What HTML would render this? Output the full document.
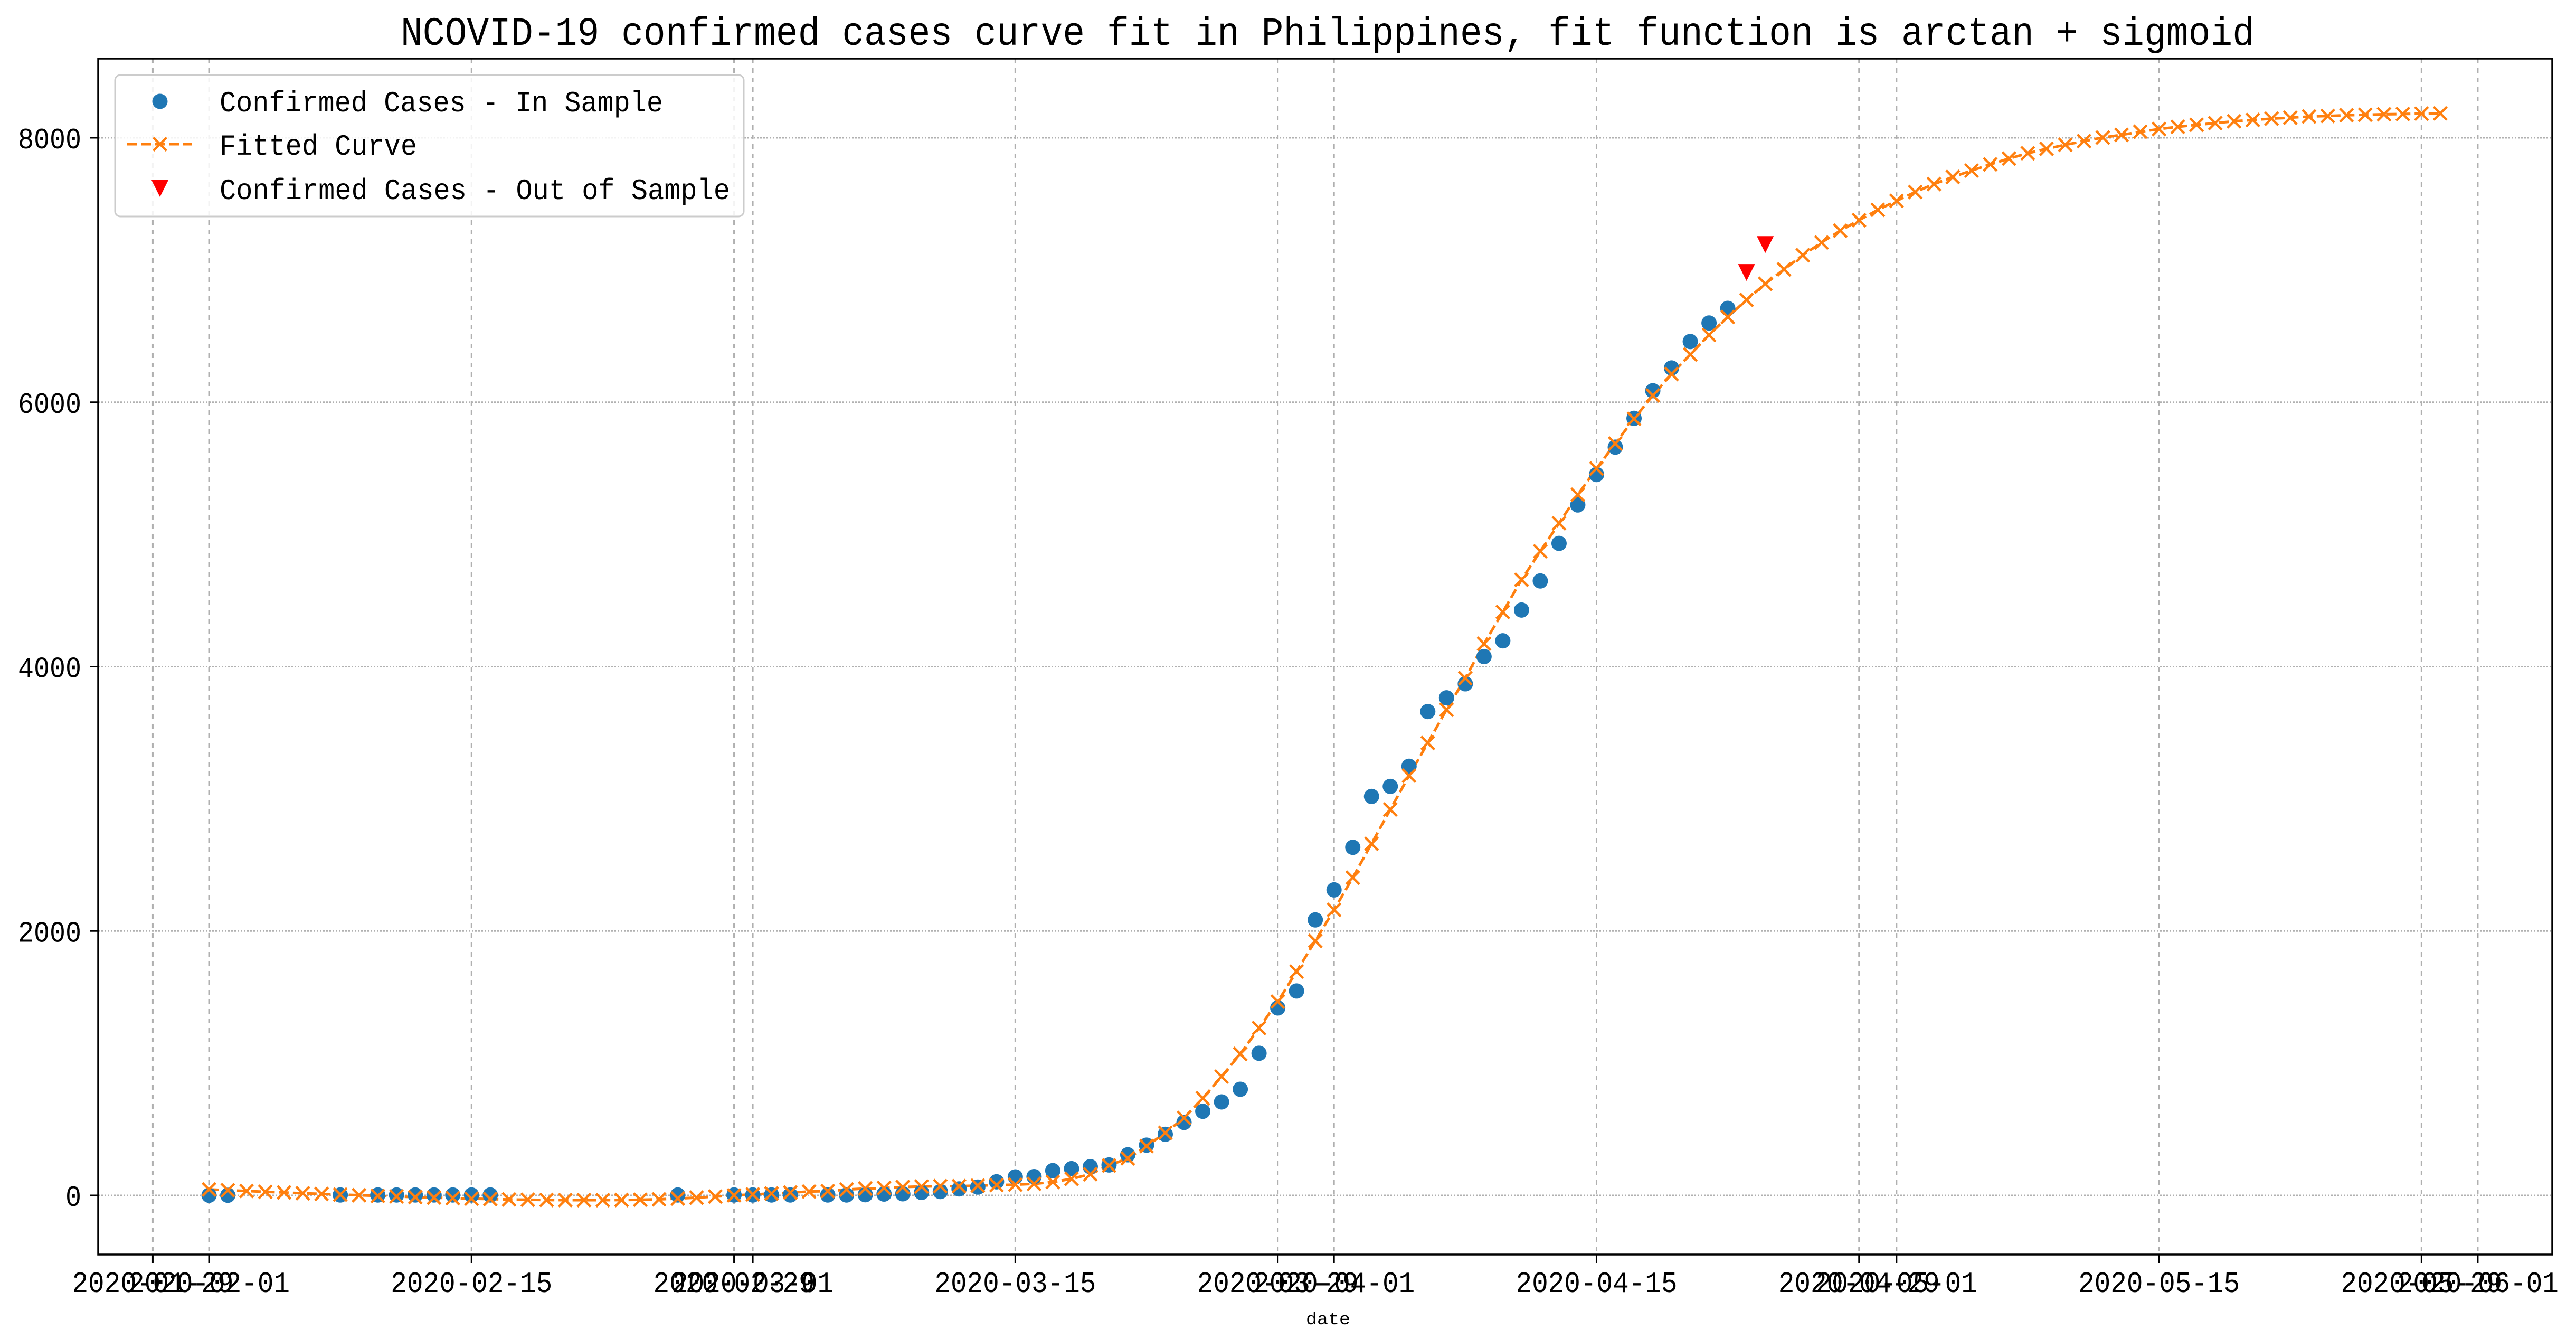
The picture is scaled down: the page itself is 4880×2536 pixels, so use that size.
<!DOCTYPE html>
<html><head><meta charset="utf-8">
<style>
html,body{margin:0;padding:0;background:#fff;}
svg{display:block;}
text{font-family:"Liberation Mono","Noto Sans CJK SC",monospace;fill:#000;}
</style></head>
<body>
<svg id="chart" xmlns="http://www.w3.org/2000/svg" width="4880" height="2536" viewBox="0 0 4880 2536">
<rect x="0" y="0" width="4880" height="2536" fill="#fff"/>
<text x="2515" y="85" text-anchor="middle" font-size="76" textLength="3512" lengthAdjust="spacingAndGlyphs">NCOVID-19 confirmed cases curve fit in Philippines, fit function is arctan + sigmoid</text>
<g id="grid"></g>
<g id="axes"></g>
<g id="series"></g>
<text x="2516" y="2508" text-anchor="middle" font-size="32" textLength="84" lengthAdjust="spacingAndGlyphs">date</text>
<g id="legend">
  <rect x="218" y="142" width="1191" height="268" rx="10" fill="#fff" fill-opacity="0.85" stroke="#cccccc" stroke-width="3"/>
  <g>
    <circle cx="303" cy="192" r="14.5" fill="#1f77b4"/>
    <text x="416" y="211" font-size="56" textLength="840" lengthAdjust="spacingAndGlyphs">Confirmed Cases - In Sample</text>
  </g>
  <g>
    <line x1="241" y1="273" x2="364" y2="273" stroke="#ff7f0e" stroke-width="5" stroke-dasharray="18.5 8"/>
    <path d="M290.5,260.5 L315.5,285.5 M290.5,285.5 L315.5,260.5" stroke="#ff7f0e" stroke-width="4.5"/>
    <text x="416" y="293" font-size="56" textLength="374" lengthAdjust="spacingAndGlyphs">Fitted Curve</text>
  </g>
  <g>
    <path d="M287,341 L319,341 L303,373 Z" fill="#ff0000"/>
    <text x="416" y="377" font-size="56" textLength="967" lengthAdjust="spacingAndGlyphs">Confirmed Cases - Out of Sample</text>
  </g>
</g>
</svg>
<script>
// ---- data ----
var fitStartDate = "2020-02-01";
var fittedValues = [45,39,33,27,22,16,11,6,1,-4,-8,-13,-17,-21,-25,-28,-31,-33,-35,-36,-36,-36,-35,-33,-30,-24,-17,-9,0,7,14,21,29,32,
44,52,56,63,67,70,70,74,78,81,87,101,125,160,226,280,373,473,586,735,
899,1070,1266,1466,1693,1925,2160,2404,2660,2919,3175,3422,3674,3913,4173,4413,4657,
4872,5084,5300,5499,5687,5875,6051,6213,6361,6509,6645,6774,6896,7005,
7112,7208,7297,7377,7455,7523,7590,7650,7704,7752,7799,7843,7883,7917,7947,7975,8002,8022,8046,8066,8083,8098,8111,8125,8135,8145,8152,8161,8165,8171,8174,8178,8180,8183,8185];
var inSampleDates = ["2020-02-01","2020-02-02","2020-02-08","2020-02-10","2020-02-11","2020-02-12","2020-02-13","2020-02-14","2020-02-15","2020-02-16","2020-02-26","2020-02-29","2020-03-01","2020-03-02","2020-03-03","2020-03-05","2020-03-06","2020-03-07","2020-03-08","2020-03-09","2020-03-10","2020-03-11","2020-03-12","2020-03-13","2020-03-14","2020-03-15","2020-03-16","2020-03-17","2020-03-18","2020-03-19","2020-03-20","2020-03-21","2020-03-22","2020-03-23","2020-03-24","2020-03-25","2020-03-26","2020-03-27","2020-03-28","2020-03-29","2020-03-30","2020-03-31","2020-04-01","2020-04-02","2020-04-03","2020-04-04","2020-04-05","2020-04-06","2020-04-07","2020-04-08","2020-04-09","2020-04-10","2020-04-11","2020-04-12","2020-04-13","2020-04-14","2020-04-15","2020-04-16","2020-04-17","2020-04-18","2020-04-19","2020-04-20","2020-04-21","2020-04-22"];
var inSampleValues = [1,1,3,3,3,3,3,3,3,3,3,3,3,3,3,3,3,5,10,12,22,29,49,63,103,140,142,187,202,217,230,307,380,462,552,636,707,803,1075,1418,1546,2084,2311,2633,3018,3094,3246,3660,3764,3870,4076,4195,4428,4648,4932,5223,5453,5660,5878,6087,6259,6459,6599,6710];
var outSampleDates = ["2020-04-23","2020-04-24"];
var outSampleValues = [6981,7192];
var xTickDates = ["2020-01-29","2020-02-01","2020-02-15","2020-02-29","2020-03-01","2020-03-15","2020-03-29","2020-04-01","2020-04-15","2020-04-29","2020-05-01","2020-05-15","2020-05-29","2020-06-01"];
var yTickValues = [0,2000,4000,6000,8000];

// ---- scales ----
var NS="http://www.w3.org/2000/svg";
var L=186,R=4835,T=111,B=2376;
var DAY=86400000, base=Date.UTC(2020,1,1);
function dayOf(s){var p=s.split("-");return (Date.UTC(+p[0],+p[1]-1,+p[2])-base)/DAY;}
function xs(d){return 396+d*35.52;}
function ys(v){return 2264-v*(2003/8000);}
function mk(tag,attrs,parent){var e=document.createElementNS(NS,tag);for(var k in attrs)e.setAttribute(k,attrs[k]);parent.appendChild(e);return e;}

var grid=document.getElementById("grid"),axes=document.getElementById("axes"),series=document.getElementById("series");
// grid + ticks
yTickValues.forEach(function(v){
  var y=ys(v);
  var g=mk("line",{x1:L,x2:R,y1:y,y2:y,stroke:"#b0b0b0","stroke-width":3,"stroke-dasharray":"3 3"},grid);
  
  
  var t=mk("line",{x1:L-15,x2:L,y1:y,y2:y,stroke:"#000","stroke-width":3},axes);
  
  
  var lb=mk("text",{x:154,y:y+20,"text-anchor":"end","font-size":56},axes);
  lb.textContent=String(v);
  lb.setAttribute("textLength",String(v).length*30);
  lb.setAttribute("lengthAdjust","spacingAndGlyphs");
  
  
});
xTickDates.forEach(function(s){
  var x=xs(dayOf(s));
  var g=mk("line",{x1:x,x2:x,y1:T,y2:B,stroke:"#b0b0b0","stroke-width":3,"stroke-dasharray":"9 9"},grid);
  
  
  var t=mk("line",{x1:x,x2:x,y1:B,y2:B+16,stroke:"#000","stroke-width":3},axes);
  
  
  var lb=mk("text",{x:x,y:2447,"text-anchor":"middle","font-size":56,textLength:306,lengthAdjust:"spacingAndGlyphs"},axes);
  lb.textContent=s;
  
  
});
var fr=mk("rect",{x:L,y:T,width:R-L,height:B-T,fill:"none",stroke:"#000","stroke-width":3.5},axes);



// fitted curve
var s0=dayOf(fitStartDate);
var pts=fittedValues.map(function(v,i){return xs(s0+i).toFixed(1)+","+ys(v).toFixed(1);}).join(" ");
var pl=mk("polyline",{points:pts,fill:"none",stroke:"#ff7f0e","stroke-width":5,"stroke-dasharray":"18.5 8"},series);


// in-sample dots (drawn before X markers)
inSampleValues.forEach(function(v,i){
  var c=mk("circle",{cx:xs(dayOf(inSampleDates[i])),cy:ys(v),r:14.5,fill:"#1f77b4"},series);
  
  
});
fittedValues.forEach(function(v,i){
  var x=xs(s0+i),y=ys(v),h=12.5;
  var p=mk("path",{d:"M"+(x-h)+","+(y-h)+"L"+(x+h)+","+(y+h)+"M"+(x-h)+","+(y+h)+"L"+(x+h)+","+(y-h),stroke:"#ff7f0e","stroke-width":4.5,fill:"none"},series);
  
  
});
outSampleValues.forEach(function(v,i){
  var x=xs(dayOf(outSampleDates[i])),y=ys(v);
  var p=mk("path",{d:"M"+(x-16)+","+(y-16)+"L"+(x+16)+","+(y-16)+"L"+x+","+(y+16)+"Z",fill:"#ff0000"},series);
  
  
});
</script>
</body></html>
